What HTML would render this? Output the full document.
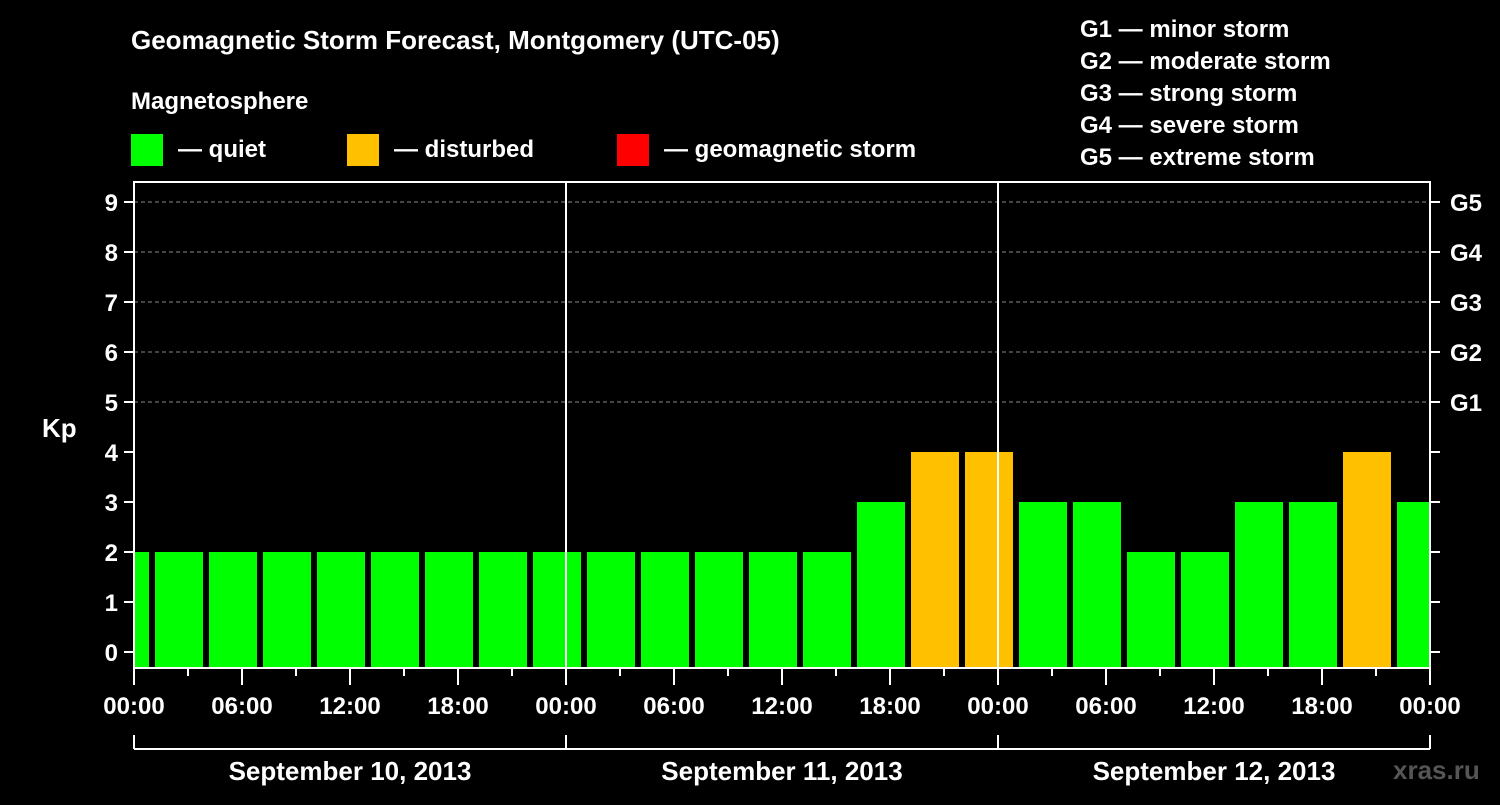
<!DOCTYPE html>
<html><head><meta charset="utf-8"><style>
body{margin:0;background:#000;width:1500px;height:800px;overflow:hidden}
text{font-family:"Liberation Sans",sans-serif;font-weight:bold;fill:#fff}
</style></head><body>
<svg id="c" width="1500" height="800">
<text x="131" y="49" font-size="26">Geomagnetic Storm Forecast, Montgomery (UTC-05)</text>
<text x="131" y="109" font-size="24">Magnetosphere</text>
<g><rect x="131" y="134" width="32" height="32" fill="#00ff00"/><text x="178" y="157" font-size="24">— quiet</text></g>
<g><rect x="347" y="134" width="32" height="32" fill="#ffc000"/><text x="394" y="157" font-size="24">— disturbed</text></g>
<g><rect x="617" y="134" width="32" height="32" fill="#ff0000"/><text x="664" y="157" font-size="24">— geomagnetic storm</text></g>
<g font-size="24">
<text x="1080" y="37">G1 — minor storm</text><text x="1080" y="69">G2 — moderate storm</text><text x="1080" y="101">G3 — strong storm</text><text x="1080" y="133">G4 — severe storm</text><text x="1080" y="165">G5 — extreme storm</text></g>
<text x="42" y="437" font-size="26">Kp</text>
<text x="1393" y="779" font-size="26" fill="#555" style="fill:#555">xras.ru</text>
<g id="g"></g>
</svg>
<script>
const days=["September 10, 2013","September 11, 2013","September 12, 2013"];
const kp=[2, 2,2,2,2,2,2,2,2, 2,2,2,2,2,3,4,4, 3,3,2,2,3,3,4,3];
const yTicks=[0,1,2,3,4,5,6,7,8,9];
const gLabels=["G1","G2","G3","G4","G5"];
const timeLabels=["00:00","06:00","12:00","18:00"];
const X0=134,DW=432,Y0=652,UY=50,TOP=182,BOT=668,XR=X0+3*DW;
const x=h=>X0+h*DW/24, y=v=>Y0-v*UY;
const g=document.getElementById('g');const NS="http://www.w3.org/2000/svg";
function mk(t,a){const e=document.createElementNS(NS,t);for(const k in a)e.setAttribute(k,a[k]);g.appendChild(e);return e;}
// grid
for(let v=5;v<=9;v++){const l=mk('line',{x1:X0,x2:XR,y1:y(v),y2:y(v),stroke:'#888','stroke-dasharray':'4,3'});

}
// bars
kp.forEach((v,i)=>{let h0=-2+3*i,h1=h0+3;let a=Math.max(x(h0)+3,x(0)+1),b=Math.min(x(h1)-3,XR);
const r=mk('rect',{x:a,y:y(v),width:b-a,height:BOT-y(v),fill:v>=5?'#ff0000':v>=4?'#ffc000':'#00ff00'});

});
// frame
const f=mk('rect',{x:X0,y:TOP,width:XR-X0,height:BOT-TOP,fill:'none',stroke:'#fff','stroke-width':2});


for(let d=1;d<3;d++){const l=mk('line',{x1:x(24*d),x2:x(24*d),y1:TOP,y2:BOT,stroke:'#fff','stroke-width':2});

}
yTicks.forEach(v=>{mk('line',{x1:X0-10,x2:X0,y1:y(v),y2:y(v),stroke:'#fff','stroke-width':2});
mk('line',{x1:XR,x2:XR+10,y1:y(v),y2:y(v),stroke:'#fff','stroke-width':2});
const t=mk('text',{x:X0-16,y:y(v)+9,'font-size':24,'text-anchor':'end'});t.textContent=v;

});
gLabels.forEach((s,i)=>{const t=mk('text',{x:XR+20,y:y(5+i)+9,'font-size':24});t.textContent=s;

});
for(let h=0;h<=72;h+=3){const major=h%6==0;mk('line',{x1:x(h),x2:x(h),y1:BOT,y2:BOT+(major?17:8),stroke:'#fff','stroke-width':2});
if(major&&(h%24==0||h%6==0)){const t=mk('text',{x:x(h),y:BOT+46,'font-size':24,'text-anchor':'middle'});t.textContent=h==72?"00:00":timeLabels[(h%24)/6];

}}
mk('line',{x1:X0,x2:XR,y1:749,y2:749,stroke:'#fff','stroke-width':2});
for(let d=0;d<=3;d++)mk('line',{x1:x(24*d),x2:x(24*d),y1:735,y2:749,stroke:'#fff','stroke-width':2});
days.forEach((s,d)=>{const t=mk('text',{x:x(24*d+12),y:780,'font-size':26,'text-anchor':'middle'});t.textContent=s;

});
</script>
</body></html>
